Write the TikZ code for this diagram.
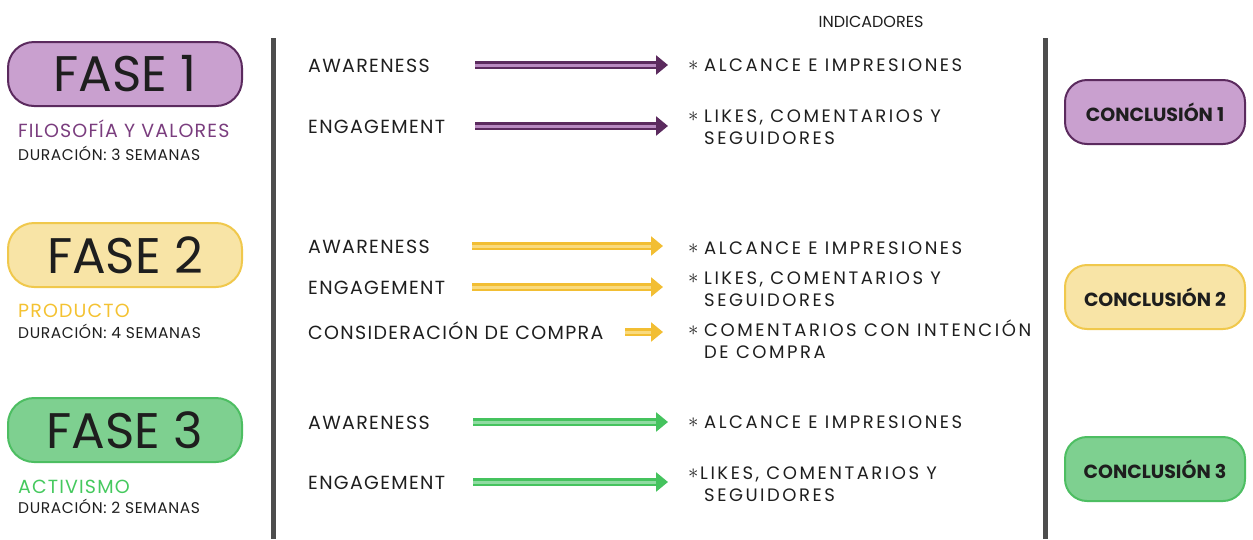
\documentclass[tikz,border=0pt]{standalone}
\usepackage{fontspec}
\setmainfont{Poppins}
\newfontfamily\indfont[LetterSpace=14]{Poppins}
\newfontfamily\lblfont[LetterSpace=7]{Poppins}
\newfontfamily\temafont[LetterSpace=6]{Poppins}
\newfontfamily\durfont[LetterSpace=4]{Poppins}
\usepackage{tikz}
\usetikzlibrary{positioning, arrows.meta}
\usepackage{graphicx}
\definecolor{purpleline}{HTML}{5B2A5E}
\definecolor{purplefill}{HTML}{C9A0CF}
\definecolor{purpletext}{HTML}{7A3D7E}
\definecolor{purplelight}{HTML}{B98AC1}
\definecolor{yellowline}{HTML}{F0C84C}
\definecolor{yellowfill}{HTML}{F8E4A6}
\definecolor{yellowtext}{HTML}{F4C232}
\definecolor{yellowarrow}{HTML}{F2BE33}
\definecolor{yellowlight}{HTML}{F9DA7E}
\definecolor{greenline}{HTML}{4DBE62}
\definecolor{greenfill}{HTML}{7ED090}
\definecolor{greentext}{HTML}{45C95E}
\definecolor{greenarrow}{HTML}{45C35E}
\definecolor{greenlight}{HTML}{8FDBA1}
\definecolor{divgray}{HTML}{4D4D4D}
\definecolor{inktext}{HTML}{1E1E1E}
\tikzset{
    fase/.style 2 args={draw=#1, fill=#2, line width=2pt, rounded corners=26pt, minimum width=234pt, minimum height=64pt, inner sep=0pt, font=\fontsize{50}{50}\selectfont, text=inktext},
    conclusion/.style 2 args={draw=#1, fill=#2, line width=2pt, rounded corners=22pt, minimum width=180pt, minimum height=64pt, inner sep=0pt, font=\bfseries\fontsize{19}{19}\selectfont, text=inktext},
    tema/.style={anchor=base west, inner sep=0pt, font=\temafont\fontsize{19}{19}\selectfont},
    duracion/.style={anchor=base west, inner sep=0pt, font=\durfont\fontsize{15.5}{15.5}\selectfont, text=inktext},
    etapa/.style={anchor=base west, inner sep=0pt, font=\lblfont\fontsize{19}{19}\selectfont, text=inktext},
    indicador/.style={anchor=base west, inner sep=0pt, align=left, font=\indfont\fontsize{18}{22}\selectfont, text=inktext},
    divider/.style={line width=5pt, divgray},
    fasearrow/.style 2 args={draw=#1, double=#2, double distance=3pt, line width=2.7pt, -{Triangle[length=12pt, width=19pt]}}
}
\newcommand{\indstar}[1][16pt]{\makebox[#1][l]{\raisebox{0.8pt}{\scalebox{1.2}{$\ast$}}}}

\begin{document}
\begin{tikzpicture}[x=1pt, y=-1pt]
        \useasboundingbox (0,0) rectangle (1253,539);

        % Phases on the left
        \node[fase={purpleline}{purplefill}] (fase1) at (125,74) {FASE 1};
        \node[tema, text=purpletext] (tema1) at (18,137) {FILOSOFÍA Y VALORES};
        \node[duracion] (dur1) at (18,160) {DURACIÓN: 3 SEMANAS};

        \node[fase={yellowline}{yellowfill}] (fase2) at (125,255) {FASE 2};
        \node[tema, text=yellowtext] (tema2) at (18,317) {PRODUCTO};
        \node[duracion] (dur2) at (18,338) {DURACIÓN: 4 SEMANAS};

        \node[fase={greenline}{greenfill}] (fase3) at (125,430) {FASE 3};
        \node[tema, text=greentext] (tema3) at (18,493) {ACTIVISMO};
        \node[duracion] (dur3) at (18,513) {DURACIÓN: 2 SEMANAS};

        % Dividers
        \draw[divider] (273,38) -- (273,539);
        \draw[divider] (1045,38) -- (1045,539);

        \node[anchor=base, inner sep=0pt, font=\fontsize{16}{16}\selectfont, text=inktext] (titulo) at (871,27) {INDICADORES};

        % Stages of phase 1 (two-line nodes sit on their last baseline)
        \node[etapa] (e1a) at (308,72) {AWARENESS};
        \node[etapa] (e1b) at (308,133) {ENGAGEMENT};
        \node[indicador] (i1a) at (688,71) {\indstar ALCANCE E IMPRESIONES};
        \node[indicador] (i1b) at (688,144) {\indstar LIKES, COMENTARIOS Y\\\hspace*{16pt}SEGUIDORES};

        % Stages of phase 2
        \node[etapa] (e2a) at (308,253) {AWARENESS};
        \node[etapa] (e2b) at (308,294) {ENGAGEMENT};
        \node[etapa] (e2c) at (308,339) {CONSIDERACIÓN DE COMPRA};
        \node[indicador] (i2a) at (688,254) {\indstar ALCANCE E IMPRESIONES};
        \node[indicador] (i2b) at (688,306) {\indstar LIKES, COMENTARIOS Y\\\hspace*{16pt}SEGUIDORES};
        \node[indicador] (i2c) at (688,358) {\indstar COMENTARIOS CON INTENCIÓN\\\hspace*{16pt}DE COMPRA};

        % Stages of phase 3
        \node[etapa] (e3a) at (308,429) {AWARENESS};
        \node[etapa] (e3b) at (308,489) {ENGAGEMENT};
        \node[indicador] (i3a) at (688,428) {\indstar ALCANCE E IMPRESIONES};
        \node[indicador] (i3b) at (688,501) {\indstar[12pt]LIKES, COMENTARIOS Y\\\hspace*{16pt}SEGUIDORES};

        % Arrow starts
        \coordinate (s1a) at (475,65);
        \coordinate (s1b) at (475,126);
        \coordinate (s2a) at (472,246);
        \coordinate (s2b) at (472,287);
        \coordinate (s2c) at (625,332);
        \coordinate (s3a) at (473,422);
        \coordinate (s3b) at (473,482);

        \draw[fasearrow={purpleline}{purplelight}, shorten >=20pt] (s1a) -- (s1a -| i1a.west);
        \draw[fasearrow={purpleline}{purplelight}, shorten >=20pt] (s1b) -- (s1b -| i1b.west);
        \draw[fasearrow={yellowarrow}{yellowlight}, shorten >=25pt] (s2a) -- (s2a -| i2a.west);
        \draw[fasearrow={yellowarrow}{yellowlight}, shorten >=25pt] (s2b) -- (s2b -| i2b.west);
        \draw[fasearrow={yellowarrow}{yellowlight}, shorten >=25pt] (s2c) -- (s2c -| i2c.west);
        \draw[fasearrow={greenarrow}{greenlight}, shorten >=20pt] (s3a) -- (s3a -| i3a.west);
        \draw[fasearrow={greenarrow}{greenlight}, shorten >=20pt] (s3b) -- (s3b -| i3b.west);

        % Conclusions on the right
        \node[conclusion={purpleline}{purplefill}] (conc1) at (1155,112) {CONCLUSIÓN 1};
        \node[conclusion={yellowline}{yellowfill}] (conc2) at (1155,297) {CONCLUSIÓN 2};
        \node[conclusion={greenline}{greenfill}] (conc3) at (1155,469) {CONCLUSIÓN 3};
    \end{tikzpicture}
\end{document}
